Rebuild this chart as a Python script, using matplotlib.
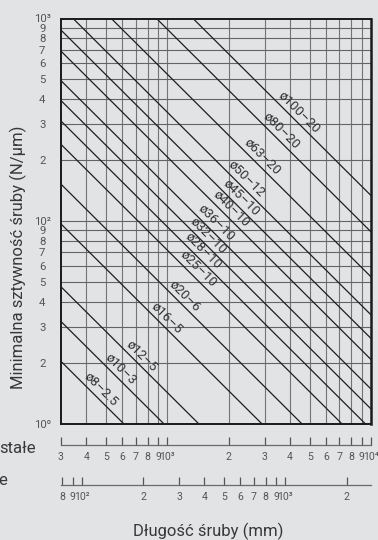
import numpy as np
import matplotlib
matplotlib.use("Agg")
import matplotlib.pyplot as plt

plt.rcParams['font.family'] = ['Roboto', 'DejaVu Sans']

# ---------------- data ----------------
screw_labels = ["ø8–2.5", "ø10–3", "ø12–5", "ø16–5", "ø20–6", "ø25–10", "ø28–10",
                "ø32–10", "ø36–10", "ø40–10", "ø45–10", "ø50–12", "ø63–20",
                "ø80–20", "ø100–20"]
# minimal stiffness (N/um) at screw length 1000 mm (upper length scale)
stiffness_at_1000 = [6.08, 9.57, 14.2, 29.0, 45.6, 71.7, 93.5, 118, 148, 207,
                     263, 344, 530, 884, 1336]
# length (upper scale, mm) where each label sits along its line
label_length = [441, 553, 701, 930, 1140, 1321, 1398, 1480, 1619, 1919,
                2148, 2274, 2725, 3379, 4141]

y_ticks = [10, 20, 30, 40, 50, 60, 70, 80, 90, 100, 200, 300, 400, 500, 600,
           700, 800, 900, 1000]
y_ticklabels = ["10⁰", "2", "3", "4", "5", "6", "7", "8", "9", "10²", "2", "3",
                "4", "5", "6", "7", "8", "9", "10³"]

scale1_ticks = [300, 400, 500, 600, 700, 800, 900, 1000, 2000, 3000, 4000,
                5000, 6000, 7000, 8000, 9000, 10000]
scale1_labels = ["3", "4", "5", "6", "7", "8", "9", "10³", "2", "3", "4", "5",
                 "6", "7", "8", "9", "10⁴"]
scale2_ticks = [80, 90, 100, 200, 300, 400, 500, 600, 700, 800, 900, 1000, 2000]
scale2_labels = ["8", "9", "10²", "2", "3", "4", "5", "6", "7", "8", "9", "10³", "2"]
scale_ratio = 3.8   # upper length scale / lower length scale

x_min, x_max = 300, 10000
y_min, y_max = 10, 1000

# ---------------- figure ----------------
W, H = 378, 540
bg = "#e2e3e5"
fig = plt.figure(figsize=(W / 100, H / 100), dpi=100, facecolor=bg)

def frac(px_left, px_top, px_w, px_h):
    return [px_left / W, 1 - (px_top + px_h) / H, px_w / W, px_h / H]

ax = fig.add_axes(frac(61, 18.5, 310, 405))
ax.set_facecolor(bg)
ax.set_xscale("log")
ax.set_yscale("log")
ax.set_xlim(x_min, x_max)
ax.set_ylim(y_min, y_max)

# grid
for xv in scale1_ticks[1:-1]:
    ax.axvline(xv, color="#747474", lw=0.8, zorder=1)
for yv in y_ticks[1:-1]:
    ax.axhline(yv, color="#646464", lw=0.8, zorder=1)

# stiffness lines  k(L) = k1000 * 1000 / L
xs = np.array([x_min, x_max], dtype=float)
for lab, k, lx in zip(screw_labels, stiffness_at_1000, label_length):
    ax.plot(xs, k * 1000.0 / xs, color="#1e1e1e", lw=0.9, zorder=3)
    ax.annotate(lab, xy=(lx, k * 1000.0 / lx), xytext=(6, 6),
                textcoords="offset pixels", rotation=-45,
                rotation_mode="anchor", ha="center", va="center",
                fontsize=9.5, color="#333333", zorder=4)

ax.set_xticks([])
ax.set_yticks(y_ticks)
ax.set_yticklabels(y_ticklabels)
ax.yaxis.set_minor_locator(matplotlib.ticker.NullLocator())
ax.xaxis.set_minor_locator(matplotlib.ticker.NullLocator())
ax.tick_params(axis="y", length=0, pad=13.5, labelsize=8.2, labelcolor="#555555")
for t in ax.get_yticklabels():
    t.set_horizontalalignment("center")
for s in ax.spines.values():
    s.set_color("#1a1a1a")
    s.set_linewidth(1.4)
ax.spines["right"].set_linewidth(1.8)

# ---------------- length scales ----------------
def length_scale(top_px, lo, hi, ticks, labels):
    a = fig.add_axes(frac(61, top_px, 310, 0.5))
    a.patch.set_alpha(0)
    a.set_xscale("log")
    a.set_xlim(lo, hi)
    a.set_yticks([])
    for side in ("top", "left", "right"):
        a.spines[side].set_visible(False)
    a.spines["bottom"].set_color("#6a6a6a")
    a.spines["bottom"].set_linewidth(0.9)
    a.set_xticks(ticks)
    a.set_xticklabels(labels)
    a.xaxis.set_minor_locator(matplotlib.ticker.NullLocator())
    a.tick_params(axis="x", direction="in", length=5.5, width=0.9,
                  color="#555555", pad=5.5, labelsize=7.6, labelcolor="#555555")
    return a

length_scale(444, x_min, x_max, scale1_ticks, scale1_labels)
length_scale(484, x_min / scale_ratio, x_max / scale_ratio, scale2_ticks, scale2_labels)

# ---------------- texts ----------------
fig.text(18.5 / W, 1 - 257.5 / H, "Minimalna sztywność śruby (N/µm)", rotation=90,
         ha="center", va="center", fontsize=12, color="#383838")
fig.text(208.5 / W, 1 - 536 / H, "Długość śruby (mm)", ha="center",
         va="baseline", fontsize=12, color="#383838")
fig.text(36 / W, 1 - 453 / H, "stałe", ha="right", va="baseline",
         fontsize=12, color="#383838")
fig.text(7.5 / W, 1 - 485 / H, "e", ha="right", va="baseline",
         fontsize=12, color="#383838")

fig.savefig("out.png", dpi=100, facecolor=bg)
